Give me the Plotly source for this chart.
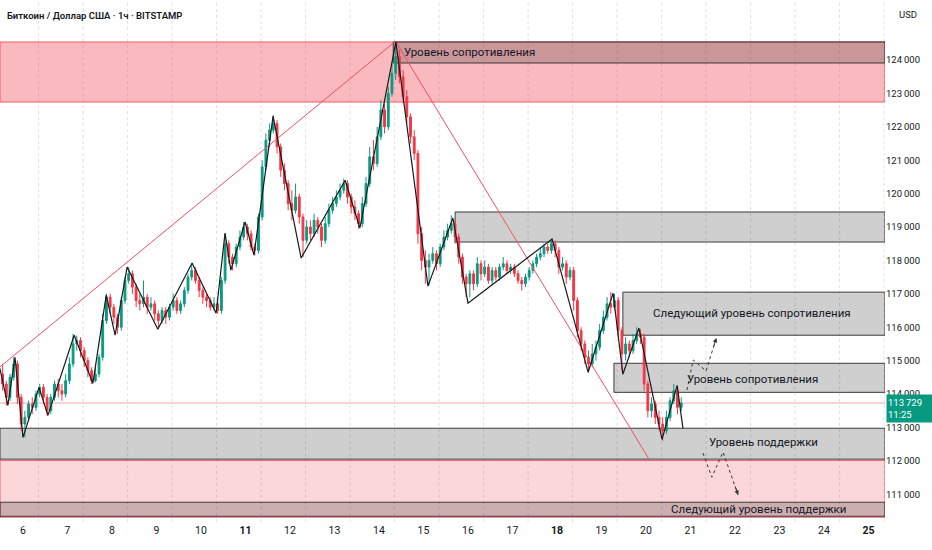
import plotly.graph_objects as go

# BTC/USD, Bitstamp, August 2025 – 2-hour bars, x = day of month (fractional)
START_DAY = 5.5
BAR_DAYS = 2 / 24
FIRST_OPEN = 114600
LAST_PRICE = 113729

closes = [
    114300, 113900, 114500, 114900, 113900, 113100, 113300, 113700, 113600, 114000,
    114200, 113900, 113500, 113900, 114300, 114100, 114000, 114400, 114900, 115500,
    115600, 115300, 115000, 114700, 114400, 114600, 115100, 116200, 116900, 116600,
    116300, 116000, 116800, 117400, 117600, 117200, 116800, 116700, 116900, 116600,
    116700, 116400, 116200, 116500, 116300, 116600, 116800, 116500, 116700, 117100,
    117500, 117700, 117400, 117100, 116900, 116800, 116600, 116700, 116500, 117400,
    118500, 118100, 117900, 118400, 118700, 119000, 118800, 118400, 118300, 119300,
    120800, 121600, 121900, 122100, 121400, 120700, 120300, 119700, 119500, 119900,
    119300, 118600, 119000, 118800, 119200, 119000, 118600, 119100, 119500, 119700,
    119900, 120100, 120300, 119900, 119600, 119400, 119100, 119700, 120300, 121100,
    120900, 121700, 122500, 122000, 123000, 123600, 124100, 123500, 122900, 122300,
    121700, 121200, 118800, 118000, 117800, 118000, 118200, 117900, 118400, 118700,
    118900, 119100, 118700, 118100, 117500, 117300, 117600, 117300, 117900, 117600,
    117800, 117400, 117700, 117500, 117800, 117900, 117700, 117800, 117600, 117400,
    117300, 117500, 117700, 117900, 118100, 118200, 118400, 118300, 118500, 118300,
    117800, 117900, 117500, 117700, 116800, 115900, 115500, 115100, 114900, 115200,
    115400, 115900, 116300, 116700, 116600, 116800, 115900, 115200, 115500, 115300,
    115600, 115800, 115700, 114300, 113500, 113700, 113300, 113100, 112900, 113300,
    113800, 114100, 113600, 113729,
]
highs = [
    114900, 114400, 114600, 115100, 115000, 114000, 113500, 113800, 113900, 114100,
    114300, 114300, 114000, 114000, 114400, 114450, 114300, 114600, 115100, 115800,
    115750, 115700, 115400, 115100, 114800, 114800, 115200, 116400, 117000, 117000,
    116700, 116400, 116900, 117500, 117800, 117700, 117300, 117000, 117400, 117000,
    116900, 116800, 116500, 116600, 116600, 116700, 117000, 116900, 116800, 117200,
    117600, 117900, 117800, 117500, 117200, 117000, 116900, 116900, 116800, 117500,
    118800, 118600, 118200, 118500, 118900, 119150, 119100, 118900, 118500, 119400,
    121000, 121800, 122100, 122350, 122200, 121500, 120900, 120400, 120100, 120300,
    120000, 119400, 119200, 119200, 119400, 119300, 119100, 119300, 119700, 119900,
    120100, 120300, 120450, 120400, 120000, 119800, 119500, 119900, 120500, 121400,
    121600, 122000, 122800, 122700, 123200, 123900, 124540, 124300, 123700, 123100,
    122400, 121900, 121300, 119000, 118300, 118200, 118400, 118300, 118500, 118900,
    119100, 119350, 119200, 118800, 118200, 117600, 117700, 117700, 118100, 118000,
    118000, 117900, 117800, 117800, 117900, 118100, 118000, 117900, 117900, 117700,
    117500, 117600, 117800, 118000, 118200, 118400, 118500, 118500, 118650, 118600,
    118400, 118100, 118000, 117800, 117800, 116900, 116000, 115600, 115300, 115500,
    115600, 116100, 116500, 116900, 117050, 117000, 116900, 116000, 115700, 115600,
    115800, 116000, 115950, 115800, 114400, 113900, 113800, 113500, 113300, 113500,
    113900, 114300, 114200, 113900,
]
lows = [
    114100, 113650, 113800, 114400, 113700, 112900, 112700, 113200, 113400, 113500,
    113900, 113700, 113350, 113400, 113800, 113900, 113800, 113900, 114300, 114800,
    115300, 115100, 114800, 114500, 114300, 114350, 114500, 115000, 116100, 116400,
    116100, 115800, 115900, 116700, 117300, 117000, 116600, 116500, 116600, 116400,
    116500, 116200, 116000, 116100, 116100, 116200, 116500, 116400, 116400, 116600,
    117000, 117400, 117300, 116900, 116700, 116600, 116500, 116500, 116400, 116400,
    117300, 117900, 117700, 117800, 118300, 118600, 118600, 118300, 118150, 118200,
    119200, 120700, 121400, 121800, 121200, 120500, 120100, 119500, 119200, 119400,
    119100, 118100, 118500, 118600, 118700, 118800, 118400, 118500, 119000, 119400,
    119600, 119800, 120000, 119700, 119400, 119200, 118950, 119000, 119600, 120200,
    120700, 120800, 121600, 121800, 121900, 122900, 123400, 123300, 122700, 122100,
    121500, 121000, 118500, 117700, 117300, 117250, 117900, 117700, 117800, 118300,
    118600, 118800, 118500, 117900, 117300, 116900, 116900, 117100, 117200, 117400,
    117500, 117300, 117300, 117400, 117400, 117700, 117600, 117600, 117500, 117300,
    117100, 117200, 117400, 117600, 117800, 118000, 118100, 118200, 118200, 118100,
    117600, 117700, 117300, 117400, 116500, 115700, 115300, 114900, 114650, 114800,
    115000, 115300, 115800, 116200, 116400, 116500, 115700, 114700, 115000, 115100,
    115200, 115500, 115500, 114100, 113300, 113300, 113100, 112900, 112600, 112800,
    113200, 113700, 113400, 113500,
]

# wave drawing (swing points)
zz_day = [5.48, 5.66, 5.82, 6.0, 6.36, 6.56, 7.15, 7.57, 7.87, 8.07, 8.34, 9.03,
          9.80, 10.34, 10.54, 10.67, 10.99, 11.19, 11.62, 12.25, 13.24, 13.57,
          14.38, 15.10, 15.66, 16.0, 17.89, 18.70, 19.26, 19.48, 19.84, 20.36,
          20.70, 20.83]
zz_price = [114770, 113660, 115100, 112700, 114200, 113360, 115760, 114320,
            116960, 115760, 117800, 115940, 117920, 116420, 118820, 117710,
            119150, 118160, 122320, 118070, 120400, 118970, 124540, 117230,
            119270, 116720, 118640, 114650, 117020, 114590, 115970, 112640,
            114260, 112970]

# red trend lines
trend_day = [5.483, 14.37, 20.09]
trend_price = [114810, 124560, 112000]

# projected paths (dashed)
up_day = [20.92, 21.06, 21.35, 21.58]
up_price = [114120, 115020, 114690, 115680]
down_day = [21.28, 21.48, 21.73, 22.07]
down_price = [112230, 111510, 112260, 110980]

# zones: (x start day or None for full width, bottom, top, fill, border)
zones = [
    (None, 122740, 124540, "rgba(242,54,69,0.35)", "rgba(242,54,69,0.75)"),
    (None, 110310, 112010, "rgba(242,54,69,0.20)", "rgba(242,54,69,0.75)"),
    (14.32, 123910, 124540, "rgba(0,0,0,0.19)", "#3a3a3a"),
    (15.71, 118550, 119450, "rgba(0,0,0,0.19)", "#3a3a3a"),
    (19.48, 115760, 117050, "rgba(0,0,0,0.19)", "#3a3a3a"),
    (19.28, 114050, 114920, "rgba(0,0,0,0.19)", "#3a3a3a"),
    (None, 112050, 112975, "rgba(0,0,0,0.19)", "#3a3a3a"),
    (None, 110340, 110760, "rgba(0,0,0,0.19)", "#3a3a3a"),
]
zone_labels = [
    ("Уровень сопротивления", 14.52, 124240, "left"),
    ("Следующий уровень сопротивления", 22.38, 116420, "center"),
    ("Уровень сопротивления", 22.40, 114440, "center"),
    ("Уровень поддержки", 22.63, 112560, "center"),
    ("Следующий уровень поддержки", 22.52, 110550, "center"),
]

day_ticks = list(range(6, 26))
price_ticks = list(range(111000, 125000, 1000))

X_MIN, X_MAX = 5.4831, 25.3708
Y_MIN, Y_MAX = 110168, 125796
FONT = "Roboto, sans-serif"
INK = "#131722"
THIN = "\u2009"

opens = [FIRST_OPEN] + closes[:-1]
bar_x = [START_DAY + (i + 0.5) * BAR_DAYS for i in range(len(closes))]

fig = go.Figure()

fig.add_trace(go.Candlestick(
    x=bar_x, open=opens, high=highs, low=lows, close=closes,
    increasing=dict(line=dict(color="#089981", width=1), fillcolor="#089981"),
    decreasing=dict(line=dict(color="#F23645", width=1), fillcolor="#F23645"),
    whiskerwidth=0, hoverinfo="skip", showlegend=False,
))

fig.add_trace(go.Scatter(x=trend_day, y=trend_price, mode="lines",
                         line=dict(color="#F0505F", width=1),
                         hoverinfo="skip", showlegend=False))
fig.add_trace(go.Scatter(x=zz_day, y=zz_price, mode="lines",
                         line=dict(color="#1a1a1a", width=1.2),
                         hoverinfo="skip", showlegend=False))
for xs, ys in [(up_day, up_price), (down_day, down_price)]:
    fig.add_trace(go.Scatter(x=xs, y=ys, mode="lines",
                             line=dict(color="#333333", width=1, dash="3px,3px"),
                             hoverinfo="skip", showlegend=False))

shapes = []
for x0, y0, y1, fill, border in zones:
    shapes.append(dict(type="rect", xref="x", yref="y",
                       x0=X_MIN if x0 is None else x0, x1=X_MAX, y0=y0, y1=y1,
                       fillcolor=fill, line=dict(color=border, width=1),
                       layer="below"))

# vertical dashed grid (sits a little after each day label)
for d in range(5, 26):
    gx = d + 0.35
    if X_MIN < gx < X_MAX:
        shapes.append(dict(type="line", xref="x", yref="paper", x0=gx, x1=gx,
                           y0=0, y1=1, line=dict(color="rgba(0,0,0,0.12)", width=1,
                                                 dash="3px,3px"), layer="below"))

# current price line
shapes.append(dict(type="line", xref="paper", yref="y", x0=0, x1=1,
                   y0=LAST_PRICE, y1=LAST_PRICE,
                   line=dict(color="rgba(242,54,69,0.45)", width=1), layer="below"))

annotations = []
for text, x, y, align in zone_labels:
    annotations.append(dict(text=text, x=x, y=y, xref="x", yref="y",
                            xanchor=align, yanchor="middle", showarrow=False,
                            font=dict(family=FONT, size=11.5, color=INK)))

# arrow heads of the projected paths
for xs, ys, ax, ay in [(up_day, up_price, -3, 10), (down_day, down_price, -3.5, -10)]:
    annotations.append(dict(x=xs[-1], y=ys[-1], xref="x", yref="y", ax=ax, ay=ay,
                            text="", showarrow=True, arrowhead=2, arrowsize=0.9,
                            arrowwidth=1, arrowcolor="#333333", standoff=0))

annotations.append(dict(text="Биткоин / Доллар США · 1ч · BITSTAMP",
                        x=0.006, y=1 - 15 / 522, xref="paper", yref="paper",
                        xanchor="left", yanchor="middle", showarrow=False,
                        font=dict(family=FONT, size=9.5, color=INK, weight=600)))
annotations.append(dict(text="USD", x=908 / 885, y=1 - 14 / 522,
                        xref="paper", yref="paper", xanchor="center",
                        yanchor="middle", showarrow=False,
                        font=dict(family=FONT, size=9.5, color=INK)))
annotations.append(dict(text=f"{LAST_PRICE:,}".replace(",", THIN) + "<br>11:25",
                        x=1, y=LAST_PRICE, xref="paper", yref="y",
                        xanchor="left", yanchor="middle", xshift=1, yshift=-5,
                        showarrow=False, align="left", bgcolor="#089981",
                        width=44, height=25, borderpad=1,
                        font=dict(family=FONT, size=9.5, color="white")))

fig.update_layout(
    width=932, height=550,
    margin=dict(l=0, r=47, t=0, b=28, autoexpand=False),
    paper_bgcolor="white", plot_bgcolor="white",
    showlegend=False, hovermode=False,
    shapes=shapes, annotations=annotations,
    xaxis=dict(range=[X_MIN, X_MAX], tickvals=day_ticks,
               ticktext=[f"<b>{d}</b>" if d in (11, 18, 25) else str(d) for d in day_ticks],
               showgrid=False, zeroline=False, ticks="", rangeslider=dict(visible=False),
               tickfont=dict(family=FONT, size=10.5, color=INK), fixedrange=True),
    yaxis=dict(range=[Y_MIN, Y_MAX], side="right", tickvals=price_ticks,
               ticktext=[f"{p:,}".replace(",", THIN) for p in price_ticks],
               showgrid=False, zeroline=False, ticks="",
               tickfont=dict(family=FONT, size=9.5, color=INK), fixedrange=True),
)

fig.write_html("out.html", config={"displayModeBar": False},
               post_script="document.body.style.margin='0';"
                           "document.body.style.overflow='hidden';")
